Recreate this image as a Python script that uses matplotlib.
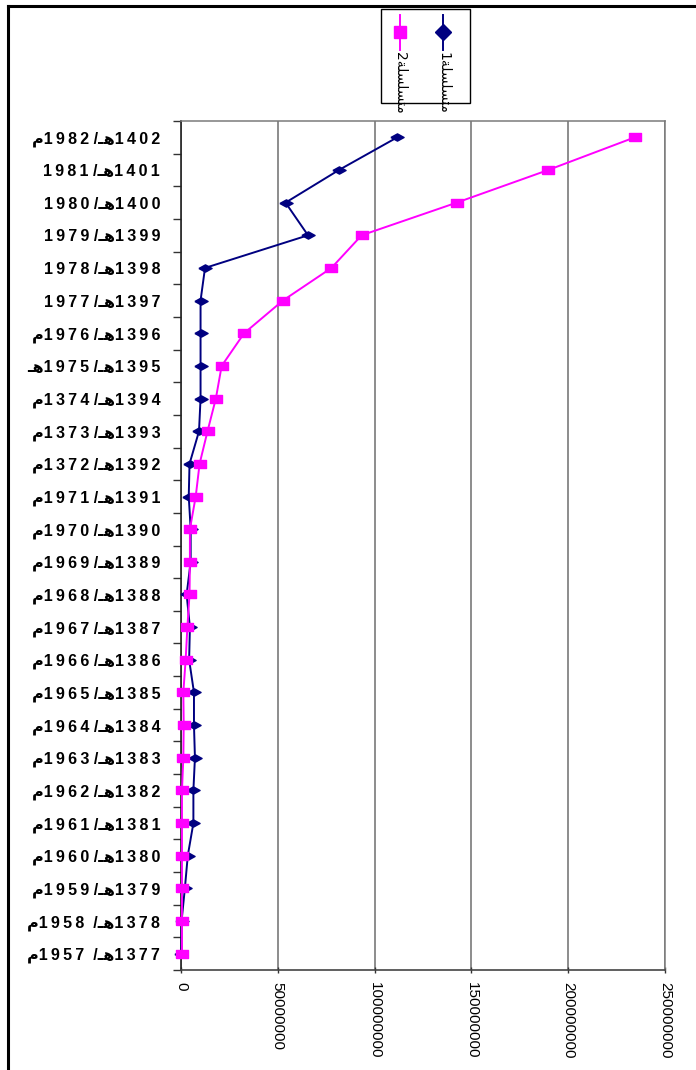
import matplotlib
matplotlib.use("Agg")
import matplotlib.pyplot as plt
from matplotlib.lines import Line2D
from matplotlib.patches import Rectangle
from matplotlib.ticker import FixedLocator, FuncFormatter
import numpy as np

# categories (bottom -> top)
hijri = list(range(1377, 1403))
greg = ["1957", "1958", "1959", "1960", "1961", "1962", "1963", "1964", "1965", "1966",
        "1967", "1968", "1969", "1970", "1971", "1372", "1373", "1374", "1975", "1976",
        "1977", "1978", "1979", "1980", "1981", "1982"]
# suffix after the gregorian year: m = "م", h = "هـ", "" = none
suffix = ["m", "m", "m", "m", "m", "m", "m", "m", "m", "m",
          "m", "m", "m", "m", "m", "m", "m", "m", "h", "m",
          "", "", "", "", "", "m"]
wide_gap = [1377, 1378]

# series values (bottom -> top)
series1 = [0.2e6, 0.3e6, 2.0e6, 3.5e6, 6.4e6, 6.4e6, 7.2e6, 6.7e6, 6.7e6, 4.2e6,
           4.6e6, 2.9e6, 5.0e6, 5.0e6, 4.0e6, 4.4e6, 9.3e6, 10.1e6, 10.1e6, 10.1e6,
           10.1e6, 12.4e6, 65.6e6, 54.0e6, 81.6e6, 111.7e6]
series2 = [0.5e6, 0.5e6, 0.5e6, 0.5e6, 0.5e6, 0.5e6, 1.2e6, 1.4e6, 1.2e6, 2.4e6,
           3.3e6, 4.4e6, 4.6e6, 4.6e6, 7.6e6, 9.6e6, 13.7e6, 18.0e6, 21.0e6, 32.6e6,
           52.6e6, 77.7e6, 93.3e6, 142.4e6, 189.7e6, 234.4e6]
xticks = [0, 50000000, 100000000, 150000000, 200000000, 250000000]

NAVY = "#000080"
MAG = "#FF00FF"
TATWEEL_HEH = "\u0640\uFEEB"          # visual (LTR) order of "هـ"
MEEM = "\u0645"
LEG1 = "1" + "\uFE94\uFEE0\uFEB4\uFEE0\uFEB4\uFE98\uFEE3"   # متسلسلة1, visual order
LEG2 = "2" + "\uFE94\uFEE0\uFEB4\uFEE0\uFEB4\uFE98\uFEE3"


def spaced(s):
    return "\u2009".join(s)


def label(h, g, suf):
    end = {"m": MEEM, "h": TATWEEL_HEH, "": ""}[suf]
    gap = "  /" if h in wide_gap else " /"
    return end + spaced(g) + gap + TATWEEL_HEH + spaced(str(h))


W, H = 696, 1070
fig = plt.figure(figsize=(W / 100, H / 100), dpi=100)
ax = fig.add_axes([181 / W, 1 - 970 / H, (665 - 181) / W, (970 - 121) / H])

y = np.arange(len(hijri))
diamond = [(-1, 0), (0, 0.55), (1, 0), (0, -0.55), (-1, 0)]
box = [(-1, -0.6), (1, -0.6), (1, 0.6), (-1, 0.6), (-1, -0.6)]
ax.plot(series1, y, color=NAVY, lw=1.4, marker=diamond, ms=9.5, mfc=NAVY, mec=NAVY,
        clip_on=False, zorder=3)
ax.plot(series2, y, color=MAG, lw=1.4, marker=box, ms=8.6, mfc=MAG, mec=MAG,
        clip_on=False, zorder=4)

ax.set_xlim(0, 250000000)
ax.set_ylim(-0.5, len(hijri) - 0.5)
ax.set_xticks(xticks)
ax.xaxis.set_major_formatter(FuncFormatter(lambda v, p: f"{int(v)}"))
ax.grid(axis="x", color="#6e6e6e", lw=1.1)
ax.set_axisbelow(True)

ax.set_yticks(y)
ax.set_yticklabels([label(h, g, s) for h, g, s in zip(hijri, greg, suffix)])
ax.yaxis.set_minor_locator(FixedLocator(np.arange(-0.5, len(hijri), 1.0)))
ax.tick_params(axis="y", which="major", length=0, pad=15)
ax.tick_params(axis="y", which="minor", length=6, width=1, color="#333333", direction="out")
for t in ax.get_yticklabels():
    t.set_fontfamily(["Liberation Sans", "DejaVu Sans"])
    t.set_fontweight("bold")
    t.set_fontsize(11.5)
ax.tick_params(axis="x", length=5, width=1, color="#333333", direction="inout", pad=6)
for t in ax.get_xticklabels():
    t.set_rotation(270)
    t.set_fontfamily(["Liberation Sans", "DejaVu Sans"])
    t.set_fontsize(11)
    t.set_va("top")
    t.set_ha("center")

for s in ("top", "right"):
    ax.spines[s].set_color("#7a7a7a")
    ax.spines[s].set_linewidth(1.1)
ax.spines["left"].set_color("#222222")
ax.spines["bottom"].set_color("#444444")
ax.spines["left"].set_linewidth(1.2)
ax.spines["bottom"].set_linewidth(1.2)

# outer chart frame (left and top edges)
fig.add_artist(Line2D([8 / W, 8 / W], [0, 1 - 6 / H], color="black", lw=2.2))
fig.add_artist(Line2D([8 / W, 1], [1 - 6 / H, 1 - 6 / H], color="black", lw=2.2))

# legend (rotated entries)
fig.add_artist(Rectangle((381 / W, 1 - 103 / H), (470 - 381) / W, (103 - 9) / H,
                         transform=fig.transFigure, fill=False, ec="black", lw=1))
for xc, col, mk, ms, txt in [(443, NAVY, "D", 8, LEG1), (400, MAG, "s", 8, LEG2)]:
    fig.add_artist(Line2D([xc / W, xc / W], [1 - 15 / H, 1 - 50 / H], color=col, lw=1.4))
    fig.add_artist(Line2D([xc / W], [1 - 32 / H], color=col, marker=mk, ms=ms, mfc=col, mec=col))
    fig.text(xc / W, 1 - 52 / H, txt, rotation=270, ha="center", va="top", fontsize=10,
             family=["DejaVu Sans"])

fig.savefig("out.png", dpi=100)
